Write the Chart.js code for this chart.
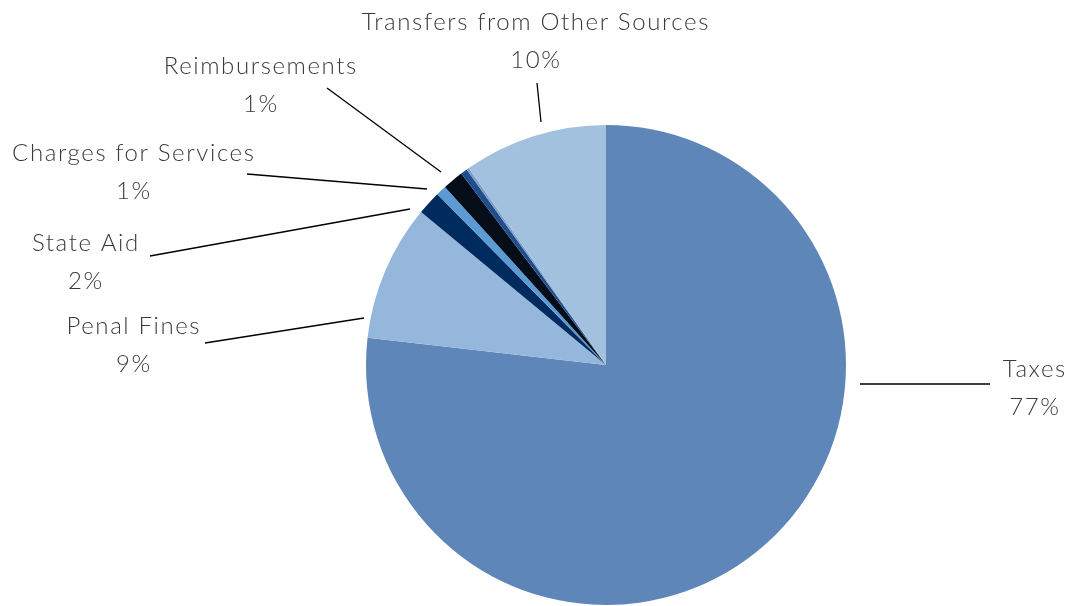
<!DOCTYPE html><html lang="en">
<head>
  <meta charset="UTF-8">
  <title>Revenue Sources</title>
  <script src="https://cdn.jsdelivr.net/npm/chart.js"></script>
  <style>
    html, body { margin: 0; padding: 0; background: #fff; }
    #wrap { width: 1070px; height: 606px; position: relative; }
  </style>
</head>
<body>
  <div id="wrap"><canvas id="revenueChart"></canvas></div>
  <script>
    // slices, clockwise from 12 o'clock
    const categories = ["Taxes", "Penal Fines", "State Aid", "Charges for Services", "Reimbursements", "", "", "Transfers from Other Sources"];
    const shares = [76.9, 9.2, 1.6, 0.7, 1.4, 0.45, 0.17, 9.7];
    const shareLabels = ["77%", "9%", "2%", "1%", "1%", "", "", "10%"];
    const sliceColors = ["#5f86b8", "#95b7db", "#002b5e", "#5b9bd5", "#050e18", "#1f4e8c", "#7f9fc9", "#a2c1df"];

    // where each label sits and where its leader line runs (null = no label)
    const labelLayout = [
      { x: 1034, y: 369, line: [860, 384, 990, 384] },
      { x: 133, y: 326, line: [364, 318, 205, 343] },
      { x: 85, y: 243, line: [410, 209, 150, 256] },
      { x: 133, y: 153, line: [427, 189, 247, 174] },
      { x: 260, y: 66, line: [441, 172, 327, 88] },
      null,
      null,
      { x: 535, y: 22, line: [541, 122, 537, 83] }
    ];

    const leaderLabels = {
      id: "leaderLabels",
      afterDraw(chart) {
        const ctx = chart.ctx;
        ctx.save();
        ctx.strokeStyle = "#000";
        ctx.lineWidth = 1.3;
        ctx.fillStyle = "#3a3a3a";
        ctx.font = "300 24px Lato";
        ctx.letterSpacing = "1.6px";
        ctx.textAlign = "center";
        ctx.textBaseline = "middle";
        labelLayout.forEach((lab, i) => {
          if (!lab) return;
          const l = lab.line;
          ctx.beginPath();
          ctx.moveTo(l[0], l[1]);
          ctx.lineTo(l[2], l[3]);
          ctx.stroke();
          ctx.fillText(categories[i], lab.x + 0.8, lab.y);
          ctx.fillText(shareLabels[i], lab.x + 0.8, lab.y + 38);
        });
        ctx.restore();
      }
    };

    new Chart(document.getElementById("revenueChart"), {
      type: "pie",
      data: {
        labels: categories,
        datasets: [{
          data: shares,
          backgroundColor: sliceColors,
          borderWidth: 0
        }]
      },
      options: {
        responsive: true,
        maintainAspectRatio: false,
        animation: false,
        layout: { padding: { top: 125, bottom: 1, left: 366, right: 224 } },
        plugins: {
          legend: { display: false },
          tooltip: { enabled: false }
        }
      },
      plugins: [leaderLabels]
    });
  </script>
</body>
</html>
